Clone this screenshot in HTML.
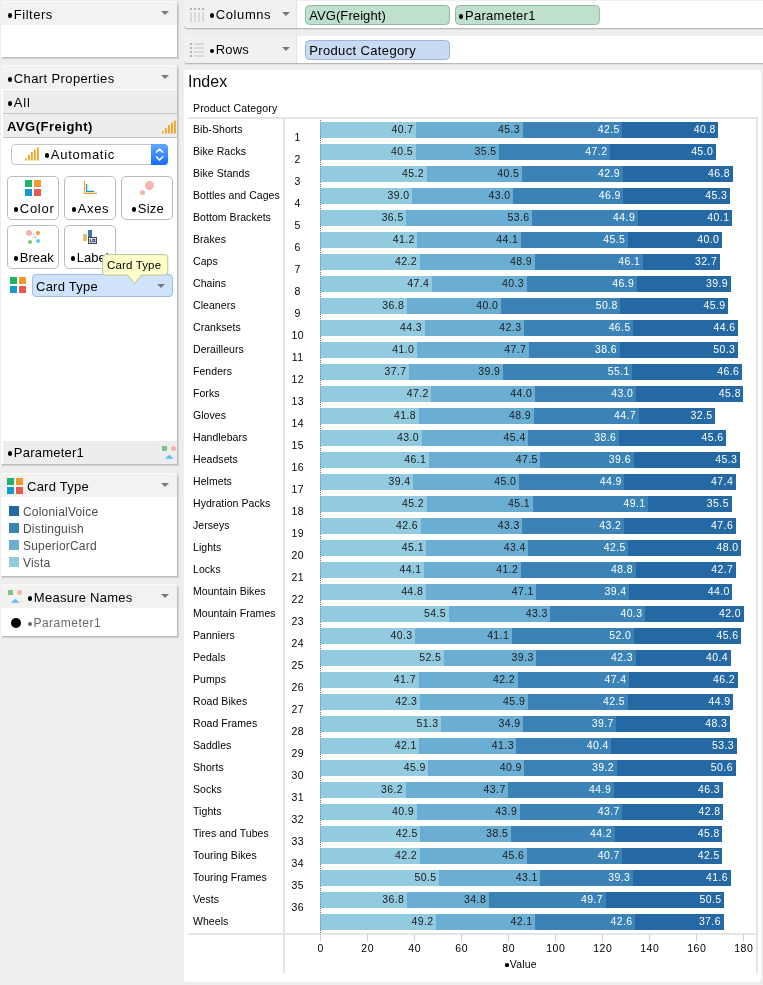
<!DOCTYPE html>
<html><head><meta charset="utf-8"><title>Index</title>
<style>
*{box-sizing:border-box;margin:0;padding:0}
html,body{width:763px;height:985px;overflow:hidden;background:#eeeeee}
body{font-family:"Liberation Sans",sans-serif;color:#000}
#page{will-change:transform;position:relative;width:763px;height:985px;background:#eeeeee;overflow:hidden}
#leftbg{display:none}
#gutter{display:none}
.card{position:absolute;left:1px;width:176px;background:#fff;border-radius:4px 4px 0 0;box-shadow:1px 1px 0 #bdbdbd, 1.5px 1.5px 1px #d0d0d0}
.card .hd{position:absolute;left:0;top:0;right:0;height:24px;background:#f2f2f1;border-radius:4px 4px 0 0;box-shadow:inset 0 1px 0 #fafafa}
.t{position:absolute;font-size:13px;line-height:16px;white-space:nowrap}
.tri{position:absolute;width:0;height:0;border-left:4px solid transparent;border-right:4px solid transparent;border-top:4.7px solid #787878;margin-left:-.3px}
.row{position:absolute;left:3px;width:174px;background:#ededf0}
.btn{position:absolute;width:52px;height:44px;border:1px solid #bcbcbc;border-radius:5px;background:#fff}
.sq{position:absolute;width:7px;height:7px}
.ci{position:absolute;border-radius:50%}
/* shelves */
.shelf{position:absolute;left:184px;width:579px;height:27.3px;background:#fff;border-radius:4px 0 0 4px;box-shadow:0 1px 0 #b9b9b9, 0 2px 1px #dcdcdc}
.shelf .lb{position:absolute;left:0;top:0;width:113px;height:27.3px;background:#f1f1ef;border-radius:4px 0 0 4px;border-right:1px solid #e6e6d8}
.pill{position:absolute;height:19.8px;width:145px;border-radius:4.5px;font-size:13px;line-height:19.5px;padding-left:3.2px;white-space:nowrap}
.pg{background:#bfe0cd;border:1px solid #93b9a4}
.pb{background:#c9daf3;border:1px solid #9db4d8}
/* chart */
#panel{position:absolute;left:184px;top:70px;width:577px;height:911.5px;background:#fff;border-radius:0 0 3px 3px}
#title{position:absolute;left:188px;top:73px;font-size:16px;line-height:18px;color:#0a0a0a}
#hdr{position:absolute;left:193px;top:101px;font-size:10.5px;line-height:14px;letter-spacing:0.17px;white-space:nowrap}
#hline1{position:absolute;left:188px;top:117px;width:570px;height:2px;background:#e6e6e6}
#vline1{position:absolute;left:283.3px;top:118px;width:1.5px;height:855px;background:#e4e4e4}
#vline2{position:absolute;left:756.3px;top:118px;width:1.5px;height:855px;background:#e4e4e4}
#axis{position:absolute;left:188px;top:933px;width:569px;height:2px;background:#e6e6e6}
#zero,#zero2{position:absolute;left:320px;top:120px;width:1px;height:814px}
#zero{background:repeating-linear-gradient(to bottom,rgba(20,20,20,.45) 0,rgba(20,20,20,.45) 1px,transparent 1px,transparent 2px)}
#zero2{background:repeating-linear-gradient(to bottom,rgba(20,20,20,.3) 0,rgba(20,20,20,.3) 1px,transparent 1px,transparent 2px)}
.rl{position:absolute;left:193px;font-size:10.5px;line-height:14px;height:14px;white-space:nowrap;letter-spacing:0.06px}
.ix{position:absolute;left:285.5px;width:24px;text-align:center;font-size:10.5px;line-height:14px;height:14px;letter-spacing:.5px;text-indent:.5px}
.sg{position:absolute;height:16px;font-size:10.5px;line-height:14px;text-align:right;padding-right:2.6px;letter-spacing:.4px;white-space:nowrap;overflow:visible}
.tk{position:absolute;top:934px;width:1px;height:7px;background:#cfcfcf}
.tl{position:absolute;top:941px;width:40px;text-align:center;font-size:10.5px;line-height:14px;letter-spacing:0.6px;text-indent:.6px}
#axt{position:absolute;left:481px;top:957px;width:80px;text-align:center;font-size:10.5px;line-height:14px;letter-spacing:0.2px}
.b{display:inline-block;width:.35em;height:.36em;position:relative;vertical-align:baseline;letter-spacing:0;margin-right:.1em}
.b:after{content:'';position:absolute;left:.01em;top:-.065em;width:.315em;height:.315em;border-radius:50%;background:currentColor}
#axt .b:after{top:-.13em;width:.35em;height:.35em}

</style></head>
<body>
<div id="page">
<div id="leftbg"></div><div id="gutter"></div>
<!-- Filters -->
<div class="card" style="top:1px;height:56px"><div class="hd"></div>
<div class="t" style="left:7px;top:6px;letter-spacing:.5px"><span class="b"></span>Filters</div><div class="tri" style="left:160px;top:10px"></div></div>
<!-- Chart properties -->
<div class="card" style="top:65px;height:399px"><div class="hd"></div>
<div class="t" style="left:7px;top:6px;letter-spacing:.38px"><span class="b"></span>Chart Properties</div><div class="tri" style="left:160px;top:10px"></div>
<div class="row" style="left:2px;top:25px;height:24px;border-bottom:1px solid #c6c6c6"></div>
<div class="t" style="left:7px;top:30px;letter-spacing:.8px"><span class="b"></span>All</div>
<div class="row" style="left:2px;top:49px;height:24px;border-bottom:1px solid #c6c6c6"></div>
<div class="t" style="left:6px;top:54px;font-weight:bold;letter-spacing:.5px">AVG(Freight)</div>
<svg style="position:absolute;left:160px;top:54.5px" width="16" height="14" viewBox="0 0 16 14"><g fill="#f5a31f"><rect x="1" y="11" width="1.6" height="2.5"/><rect x="4" y="8" width="1.8" height="5.5"/><rect x="7" y="5" width="1.8" height="8.5"/><rect x="10" y="2.5" width="1.8" height="11"/><rect x="13" y="0.5" width="1.8" height="13"/></g></svg>
<!-- dropdown -->
<div style="position:absolute;left:10px;top:79px;width:157px;height:21px;border:1px solid #c6c6c6;border-radius:4px;background:#fff"></div>
<div style="position:absolute;left:150px;top:79px;width:17px;height:21px;border-radius:0 4px 4px 0;background:linear-gradient(#5fa8ff,#1a6bff)"></div>
<svg style="position:absolute;left:150px;top:79px" width="17" height="21" viewBox="0 0 17 21"><path d="M5.3 8.3 L8.5 5 L11.7 8.3 M5.3 12.7 L8.5 16 L11.7 12.7" fill="none" stroke="#fff" stroke-width="1.5" stroke-linecap="round" stroke-linejoin="round"/></svg>
<svg style="position:absolute;left:23px;top:82px" width="16" height="14" viewBox="0 0 16 14"><g fill="#f5a31f"><rect x="1" y="11" width="1.6" height="2.5"/><rect x="4" y="8" width="1.8" height="5.5"/><rect x="7" y="5" width="1.8" height="8.5"/><rect x="10" y="2.5" width="1.8" height="11"/><rect x="13" y="0.5" width="1.8" height="13"/></g></svg>
<div class="t" style="left:44px;top:82px;letter-spacing:.7px"><span class="b"></span>Automatic</div>
<!-- buttons row1 -->
<div class="btn" style="left:6px;top:111px"></div>
<div class="btn" style="left:63px;top:111px"></div>
<div class="btn" style="left:120px;top:111px"></div>
<div class="btn" style="left:6px;top:160px"></div>
<div class="btn" style="left:63px;top:160px"></div>
<!-- color icon -->
<div class="sq" style="left:24px;top:115px;background:#1fb26b"></div><div class="sq" style="left:33px;top:115px;background:#f59b2e"></div>
<div class="sq" style="left:24px;top:124px;background:#0d9ccd"></div><div class="sq" style="left:33px;top:124px;background:#e9594f"></div>
<div class="t" style="left:13px;top:136px;letter-spacing:.7px"><span class="b"></span>Color</div>
<!-- axes icon -->
<svg style="position:absolute;left:82px;top:115px" width="16" height="15" viewBox="0 0 16 15"><path d="M1.5 1 V13.4 H14" fill="none" stroke="#f59b2e" stroke-width="1.2"/><path d="M3.6 4 V11.3 H11" fill="none" stroke="#0d9ccd" stroke-width="1.2"/></svg>
<div class="t" style="left:71px;top:136px;letter-spacing:.6px"><span class="b"></span>Axes</div>
<!-- size icon -->
<div class="ci" style="left:144px;top:115.5px;width:9.4px;height:9.4px;background:#f5b5ae"></div>
<div class="ci" style="left:139px;top:124.5px;width:5px;height:5px;background:#f5b5ae"></div>
<div class="t" style="left:131px;top:136px;letter-spacing:.2px"><span class="b"></span>Size</div>
<!-- break icon -->
<div class="ci" style="left:24.5px;top:164.5px;width:6.5px;height:6.5px;background:#f5b5ae"></div>
<div class="ci" style="left:34.5px;top:165.5px;width:4.4px;height:4.4px;background:#f59b2e"></div>
<div class="ci" style="left:26.5px;top:174.5px;width:4.4px;height:4.4px;background:#7cc57c"></div>
<div class="ci" style="left:34.8px;top:173.5px;width:4.4px;height:4.4px;background:#6ec3f4"></div>
<div class="ci" style="left:31.5px;top:168px;width:1.5px;height:1.5px;background:#bbb"></div>
<div class="ci" style="left:30.5px;top:171.5px;width:1.5px;height:1.5px;background:#bbb"></div>
<div class="ci" style="left:33px;top:171px;width:1.5px;height:1.5px;background:#bbb"></div>
<div class="t" style="left:13px;top:185px"><span class="b"></span>Break</div>
<!-- label icon -->
<div style="position:absolute;left:82px;top:169px;width:4px;height:7px;background:#e8bb72"></div>
<div style="position:absolute;left:87.3px;top:165px;width:3.8px;height:8px;background:#3c74b2"></div>
<div style="position:absolute;left:87.3px;top:172px;width:8.8px;height:7px;background:#e6e8f2;border:1px solid #4a4a4a"></div>
<svg style="position:absolute;left:87.3px;top:172px" width="9" height="7" viewBox="0 0 9 7"><path d="M2.4 2.1 V4.9 H3.9" fill="none" stroke="#2c3a6e" stroke-width="1"/><rect x="4.9" y="2.4" width="1.9" height="2.3" fill="none" stroke="#2c3a6e" stroke-width="1"/></svg>
<div class="t" style="left:70px;top:185px"><span class="b"></span>Label</div>
<!-- card type pill -->
<div class="sq" style="left:9px;top:212px;background:#1fb26b"></div><div class="sq" style="left:18px;top:212px;background:#f59b2e"></div>
<div class="sq" style="left:9px;top:221px;background:#0d9ccd"></div><div class="sq" style="left:18px;top:221px;background:#e9594f"></div>
<div style="position:absolute;left:31px;top:209.3px;width:141px;height:23.2px;border-radius:4px;background:#cfe4fb;border:1px solid #9ebde2"></div>
<div class="t" style="left:35px;top:214px;letter-spacing:.25px">Card Type</div>
<div class="tri" style="left:156px;top:219px"></div>
<!-- tooltip -->
<svg style="position:absolute;left:99.6px;top:188px" width="70" height="32" viewBox="0 0 70 32"><path d="M4.7 1.6 H63.8 a3 3 0 0 1 3 3 V19.1 a3 3 0 0 1 -3 3 H40.3 L33.4 30.6 L26.7 22.1 H4.7 a3 3 0 0 1 -3 -3 V4.6 a3 3 0 0 1 3 -3 Z" fill="#ffffcc" stroke="#bdbd9e" stroke-width="1"/></svg>
<div class="t" style="left:106px;top:191.7px;font-size:11.5px;letter-spacing:.15px">Card Type</div>
<!-- parameter1 row -->
<div class="row" style="left:2px;top:376px;height:23px"></div>
<div class="t" style="left:7px;top:380px;letter-spacing:.23px"><span class="b"></span>Parameter1</div>
<div style="position:absolute;left:161.4px;top:381.2px;width:4.6px;height:4.6px;background:#7cc57c"></div>
<div class="ci" style="left:169.5px;top:380.8px;width:5px;height:5px;background:#f5b5ae"></div>
<svg style="position:absolute;left:164px;top:389px" width="9" height="5" viewBox="0 0 9 5"><path d="M0 4.7 L4.3 0.7 L8.6 4.7 Z" fill="#55c0f0"/></svg>
</div>
<!-- Card Type legend -->
<div class="card" style="top:472.5px;height:103.5px"><div class="hd"></div>
<div class="sq" style="left:6px;top:5.5px;background:#1fb26b"></div><div class="sq" style="left:15px;top:5.5px;background:#f59b2e"></div>
<div class="sq" style="left:6px;top:14.5px;background:#0d9ccd"></div><div class="sq" style="left:15px;top:14.5px;background:#e9594f"></div>
<div class="t" style="left:26px;top:6.5px;letter-spacing:.25px">Card Type</div><div class="tri" style="left:160px;top:10.5px"></div>
<div style="position:absolute;left:8px;top:33.2px;width:10px;height:10px;background:#2468a4"></div>
<div style="position:absolute;left:8px;top:50.2px;width:10px;height:10px;background:#3b83b7"></div>
<div style="position:absolute;left:8px;top:67.2px;width:10px;height:10px;background:#6baed4"></div>
<div style="position:absolute;left:8px;top:84.2px;width:10px;height:10px;background:#92cadf"></div>
<div class="t" style="left:22px;top:31.5px;font-size:12px;color:#4d4d4d;letter-spacing:.2px">ColonialVoice</div>
<div class="t" style="left:22px;top:48.5px;font-size:12px;color:#4d4d4d;letter-spacing:.2px">Distinguish</div>
<div class="t" style="left:22px;top:65.5px;font-size:12px;color:#4d4d4d;letter-spacing:.2px">SuperiorCard</div>
<div class="t" style="left:22px;top:82.5px;font-size:12px;color:#4d4d4d;letter-spacing:.2px">Vista</div>
</div>
<!-- Measure Names -->
<div class="card" style="top:584px;height:52px"><div class="hd"></div>
<div style="position:absolute;left:7px;top:6.4px;width:4.6px;height:4.6px;background:#7cc57c"></div>
<div class="ci" style="left:15.7px;top:6px;width:5px;height:5px;background:#f5b5ae"></div>
<svg style="position:absolute;left:10px;top:14px" width="9" height="5" viewBox="0 0 9 5"><path d="M0 4.7 L4.3 0.7 L8.6 4.7 Z" fill="#55c0f0"/></svg>
<div class="t" style="left:27px;top:6px;letter-spacing:.26px"><span class="b"></span>Measure Names</div><div class="tri" style="left:160px;top:10px"></div>
<div class="ci" style="left:10px;top:33.5px;width:10px;height:10px;background:#000"></div>
<div class="t" style="left:27px;top:31px;font-size:12px;color:#6a6a6a;letter-spacing:.5px"><span class="b"></span>Parameter1</div>
</div>

<div class="shelf" style="top:.5px"><div class="lb"></div>
<svg style="position:absolute;left:6px;top:7.5px" width="16" height="15" viewBox="0 0 16 15"><g fill="#dadada"><rect x="0" y="4" width="2" height="10"/><rect x="4" y="4" width="2" height="10"/><rect x="8" y="4" width="2" height="10"/><rect x="12" y="4" width="2" height="10"/></g><g fill="#b2b2b2"><rect x="0" y="0" width="2" height="2"/><rect x="4" y="0" width="2" height="2"/><rect x="8" y="0" width="2" height="2"/><rect x="12" y="0" width="2" height="2"/></g></svg>
<div class="t" style="left:26px;top:6.5px;letter-spacing:.58px"><span class="b"></span>Columns</div><div class="tri" style="left:98px;top:11.2px"></div>
<div class="pill pg" style="left:121px;top:4.5px;letter-spacing:.09px">AVG(Freight)</div>
<div class="pill pg" style="left:271px;top:4.5px;letter-spacing:.27px"><span class="b"></span>Parameter1</div>
</div>
<div class="shelf" style="top:35.7px"><div class="lb"></div>
<svg style="position:absolute;left:6px;top:7.3px" width="16" height="16" viewBox="0 0 16 16"><g fill="#dadada"><rect x="4" y="0" width="10" height="2"/><rect x="4" y="4" width="10" height="2"/><rect x="4" y="8" width="10" height="2"/><rect x="4" y="12" width="10" height="2"/></g><g fill="#b2b2b2"><rect x="0" y="0" width="2" height="2"/><rect x="0" y="4" width="2" height="2"/><rect x="0" y="8" width="2" height="2"/><rect x="0" y="12" width="2" height="2"/></g></svg>
<div class="t" style="left:26px;top:6.5px;letter-spacing:.1px"><span class="b"></span>Rows</div><div class="tri" style="left:98px;top:11.2px"></div>
<div class="pill pb" style="left:121px;top:4.5px;letter-spacing:.36px">Product Category</div>
</div>
<div id="panel"></div>

<div id="chart">
<div id="title">Index</div>
<div id="hdr">Product Category</div>
<div id="hline1"></div>
<div id="vline1"></div>
<div id="vline2"></div>
<div id="axis"></div>
<div id="zero"></div>
<div class="rl" style="top:122px">Bib-Shorts</div><div class="ix" style="top:130px">1</div><div class="sg" style="left:320.00px;top:122px;width:96.14px;background:#92cadf;color:#1a1a1a">40.7</div><div class="sg" style="left:416.14px;top:122px;width:106.46px;background:#6baed4;color:#1a1a1a">45.3</div><div class="sg" style="left:522.60px;top:122px;width:99.88px;background:#3b83b7;color:#ffffff">42.5</div><div class="sg" style="left:622.48px;top:122px;width:95.88px;background:#2468a4;color:#ffffff">40.8</div><div class="rl" style="top:144px">Bike Racks</div><div class="ix" style="top:152px">2</div><div class="sg" style="left:320.00px;top:144px;width:95.68px;background:#92cadf;color:#1a1a1a">40.5</div><div class="sg" style="left:415.68px;top:144px;width:83.43px;background:#6baed4;color:#1a1a1a">35.5</div><div class="sg" style="left:499.10px;top:144px;width:110.92px;background:#3b83b7;color:#ffffff">47.2</div><div class="sg" style="left:610.02px;top:144px;width:105.75px;background:#2468a4;color:#ffffff">45.0</div><div class="rl" style="top:166px">Bike Stands</div><div class="ix" style="top:174px">3</div><div class="sg" style="left:320.00px;top:166px;width:106.72px;background:#92cadf;color:#1a1a1a">45.2</div><div class="sg" style="left:426.72px;top:166px;width:95.17px;background:#6baed4;color:#1a1a1a">40.5</div><div class="sg" style="left:521.89px;top:166px;width:100.82px;background:#3b83b7;color:#ffffff">42.9</div><div class="sg" style="left:622.71px;top:166px;width:109.98px;background:#2468a4;color:#ffffff">46.8</div><div class="rl" style="top:188px">Bottles and Cages</div><div class="ix" style="top:196px">4</div><div class="sg" style="left:320.00px;top:188px;width:92.15px;background:#92cadf;color:#1a1a1a">39.0</div><div class="sg" style="left:412.15px;top:188px;width:101.05px;background:#6baed4;color:#1a1a1a">43.0</div><div class="sg" style="left:513.20px;top:188px;width:110.21px;background:#3b83b7;color:#ffffff">46.9</div><div class="sg" style="left:623.41px;top:188px;width:106.46px;background:#2468a4;color:#ffffff">45.3</div><div class="rl" style="top:210px">Bottom Brackets</div><div class="ix" style="top:218px">5</div><div class="sg" style="left:320.00px;top:210px;width:86.27px;background:#92cadf;color:#1a1a1a">36.5</div><div class="sg" style="left:406.27px;top:210px;width:125.96px;background:#6baed4;color:#1a1a1a">53.6</div><div class="sg" style="left:532.24px;top:210px;width:105.51px;background:#3b83b7;color:#ffffff">44.9</div><div class="sg" style="left:637.75px;top:210px;width:94.24px;background:#2468a4;color:#ffffff">40.1</div><div class="rl" style="top:232px">Brakes</div><div class="ix" style="top:240px">6</div><div class="sg" style="left:320.00px;top:232px;width:97.32px;background:#92cadf;color:#1a1a1a">41.2</div><div class="sg" style="left:417.32px;top:232px;width:103.64px;background:#6baed4;color:#1a1a1a">44.1</div><div class="sg" style="left:520.96px;top:232px;width:106.93px;background:#3b83b7;color:#ffffff">45.5</div><div class="sg" style="left:627.88px;top:232px;width:94.00px;background:#2468a4;color:#ffffff">40.0</div><div class="rl" style="top:254px">Caps</div><div class="ix" style="top:262px">7</div><div class="sg" style="left:320.00px;top:254px;width:99.67px;background:#92cadf;color:#1a1a1a">42.2</div><div class="sg" style="left:419.67px;top:254px;width:114.92px;background:#6baed4;color:#1a1a1a">48.9</div><div class="sg" style="left:534.59px;top:254px;width:108.33px;background:#3b83b7;color:#ffffff">46.1</div><div class="sg" style="left:642.92px;top:254px;width:76.85px;background:#2468a4;color:#ffffff">32.7</div><div class="rl" style="top:276px">Chains</div><div class="ix" style="top:284px">8</div><div class="sg" style="left:320.00px;top:276px;width:111.89px;background:#92cadf;color:#1a1a1a">47.4</div><div class="sg" style="left:431.89px;top:276px;width:94.71px;background:#6baed4;color:#1a1a1a">40.3</div><div class="sg" style="left:526.60px;top:276px;width:110.21px;background:#3b83b7;color:#ffffff">46.9</div><div class="sg" style="left:636.81px;top:276px;width:93.77px;background:#2468a4;color:#ffffff">39.9</div><div class="rl" style="top:298px">Cleaners</div><div class="ix" style="top:306px">9</div><div class="sg" style="left:320.00px;top:298px;width:86.98px;background:#92cadf;color:#1a1a1a">36.8</div><div class="sg" style="left:406.98px;top:298px;width:94.00px;background:#6baed4;color:#1a1a1a">40.0</div><div class="sg" style="left:500.98px;top:298px;width:119.38px;background:#3b83b7;color:#ffffff">50.8</div><div class="sg" style="left:620.36px;top:298px;width:107.87px;background:#2468a4;color:#ffffff">45.9</div><div class="rl" style="top:320px">Cranksets</div><div class="ix" style="top:328px">10</div><div class="sg" style="left:320.00px;top:320px;width:104.61px;background:#92cadf;color:#1a1a1a">44.3</div><div class="sg" style="left:424.61px;top:320px;width:99.40px;background:#6baed4;color:#1a1a1a">42.3</div><div class="sg" style="left:524.01px;top:320px;width:109.28px;background:#3b83b7;color:#ffffff">46.5</div><div class="sg" style="left:633.29px;top:320px;width:104.81px;background:#2468a4;color:#ffffff">44.6</div><div class="rl" style="top:342px">Derailleurs</div><div class="ix" style="top:350px">11</div><div class="sg" style="left:320.00px;top:342px;width:96.85px;background:#92cadf;color:#1a1a1a">41.0</div><div class="sg" style="left:416.85px;top:342px;width:112.10px;background:#6baed4;color:#1a1a1a">47.7</div><div class="sg" style="left:528.95px;top:342px;width:90.71px;background:#3b83b7;color:#ffffff">38.6</div><div class="sg" style="left:619.65px;top:342px;width:118.21px;background:#2468a4;color:#ffffff">50.3</div><div class="rl" style="top:364px">Fenders</div><div class="ix" style="top:372px">12</div><div class="sg" style="left:320.00px;top:364px;width:89.10px;background:#92cadf;color:#1a1a1a">37.7</div><div class="sg" style="left:409.10px;top:364px;width:93.76px;background:#6baed4;color:#1a1a1a">39.9</div><div class="sg" style="left:502.86px;top:364px;width:129.49px;background:#3b83b7;color:#ffffff">55.1</div><div class="sg" style="left:632.35px;top:364px;width:109.51px;background:#2468a4;color:#ffffff">46.6</div><div class="rl" style="top:386px">Forks</div><div class="ix" style="top:394px">13</div><div class="sg" style="left:320.00px;top:386px;width:111.42px;background:#92cadf;color:#1a1a1a">47.2</div><div class="sg" style="left:431.42px;top:386px;width:103.40px;background:#6baed4;color:#1a1a1a">44.0</div><div class="sg" style="left:534.82px;top:386px;width:101.05px;background:#3b83b7;color:#ffffff">43.0</div><div class="sg" style="left:635.87px;top:386px;width:107.63px;background:#2468a4;color:#ffffff">45.8</div><div class="rl" style="top:408px">Gloves</div><div class="ix" style="top:416px">14</div><div class="sg" style="left:320.00px;top:408px;width:98.73px;background:#92cadf;color:#1a1a1a">41.8</div><div class="sg" style="left:418.73px;top:408px;width:114.91px;background:#6baed4;color:#1a1a1a">48.9</div><div class="sg" style="left:533.64px;top:408px;width:105.04px;background:#3b83b7;color:#ffffff">44.7</div><div class="sg" style="left:638.69px;top:408px;width:76.38px;background:#2468a4;color:#ffffff">32.5</div><div class="rl" style="top:430px">Handlebars</div><div class="ix" style="top:438px">15</div><div class="sg" style="left:320.00px;top:430px;width:101.55px;background:#92cadf;color:#1a1a1a">43.0</div><div class="sg" style="left:421.55px;top:430px;width:106.69px;background:#6baed4;color:#1a1a1a">45.4</div><div class="sg" style="left:528.24px;top:430px;width:90.71px;background:#3b83b7;color:#ffffff">38.6</div><div class="sg" style="left:618.95px;top:430px;width:107.16px;background:#2468a4;color:#ffffff">45.6</div><div class="rl" style="top:452px">Headsets</div><div class="ix" style="top:460px">16</div><div class="sg" style="left:320.00px;top:452px;width:108.84px;background:#92cadf;color:#1a1a1a">46.1</div><div class="sg" style="left:428.84px;top:452px;width:111.62px;background:#6baed4;color:#1a1a1a">47.5</div><div class="sg" style="left:540.46px;top:452px;width:93.06px;background:#3b83b7;color:#ffffff">39.6</div><div class="sg" style="left:633.52px;top:452px;width:106.46px;background:#2468a4;color:#ffffff">45.3</div><div class="rl" style="top:474px">Helmets</div><div class="ix" style="top:482px">17</div><div class="sg" style="left:320.00px;top:474px;width:93.09px;background:#92cadf;color:#1a1a1a">39.4</div><div class="sg" style="left:413.09px;top:474px;width:105.75px;background:#6baed4;color:#1a1a1a">45.0</div><div class="sg" style="left:518.84px;top:474px;width:105.51px;background:#3b83b7;color:#ffffff">44.9</div><div class="sg" style="left:624.36px;top:474px;width:111.39px;background:#2468a4;color:#ffffff">47.4</div><div class="rl" style="top:496px">Hydration Packs</div><div class="ix" style="top:504px">18</div><div class="sg" style="left:320.00px;top:496px;width:106.72px;background:#92cadf;color:#1a1a1a">45.2</div><div class="sg" style="left:426.72px;top:496px;width:105.99px;background:#6baed4;color:#1a1a1a">45.1</div><div class="sg" style="left:532.71px;top:496px;width:115.38px;background:#3b83b7;color:#ffffff">49.1</div><div class="sg" style="left:648.09px;top:496px;width:83.43px;background:#2468a4;color:#ffffff">35.5</div><div class="rl" style="top:518px">Jerseys</div><div class="ix" style="top:526px">19</div><div class="sg" style="left:320.00px;top:518px;width:100.61px;background:#92cadf;color:#1a1a1a">42.6</div><div class="sg" style="left:420.61px;top:518px;width:101.75px;background:#6baed4;color:#1a1a1a">43.3</div><div class="sg" style="left:522.37px;top:518px;width:101.52px;background:#3b83b7;color:#ffffff">43.2</div><div class="sg" style="left:623.88px;top:518px;width:111.86px;background:#2468a4;color:#ffffff">47.6</div><div class="rl" style="top:540px">Lights</div><div class="ix" style="top:548px">20</div><div class="sg" style="left:320.00px;top:540px;width:106.49px;background:#92cadf;color:#1a1a1a">45.1</div><div class="sg" style="left:426.49px;top:540px;width:101.99px;background:#6baed4;color:#1a1a1a">43.4</div><div class="sg" style="left:528.48px;top:540px;width:99.88px;background:#3b83b7;color:#ffffff">42.5</div><div class="sg" style="left:628.35px;top:540px;width:112.80px;background:#2468a4;color:#ffffff">48.0</div><div class="rl" style="top:562px">Locks</div><div class="ix" style="top:570px">21</div><div class="sg" style="left:320.00px;top:562px;width:104.13px;background:#92cadf;color:#1a1a1a">44.1</div><div class="sg" style="left:424.13px;top:562px;width:96.82px;background:#6baed4;color:#1a1a1a">41.2</div><div class="sg" style="left:520.96px;top:562px;width:114.68px;background:#3b83b7;color:#ffffff">48.8</div><div class="sg" style="left:635.63px;top:562px;width:100.35px;background:#2468a4;color:#ffffff">42.7</div><div class="rl" style="top:584px">Mountain Bikes</div><div class="ix" style="top:592px">22</div><div class="sg" style="left:320.00px;top:584px;width:105.78px;background:#92cadf;color:#1a1a1a">44.8</div><div class="sg" style="left:425.78px;top:584px;width:110.69px;background:#6baed4;color:#1a1a1a">47.1</div><div class="sg" style="left:536.47px;top:584px;width:92.59px;background:#3b83b7;color:#ffffff">39.4</div><div class="sg" style="left:629.06px;top:584px;width:103.40px;background:#2468a4;color:#ffffff">44.0</div><div class="rl" style="top:606px">Mountain Frames</div><div class="ix" style="top:614px">23</div><div class="sg" style="left:320.00px;top:606px;width:128.58px;background:#92cadf;color:#1a1a1a">54.5</div><div class="sg" style="left:448.58px;top:606px;width:101.75px;background:#6baed4;color:#1a1a1a">43.3</div><div class="sg" style="left:550.33px;top:606px;width:94.71px;background:#3b83b7;color:#ffffff">40.3</div><div class="sg" style="left:645.04px;top:606px;width:98.70px;background:#2468a4;color:#ffffff">42.0</div><div class="rl" style="top:628px">Panniers</div><div class="ix" style="top:636px">24</div><div class="sg" style="left:320.00px;top:628px;width:95.20px;background:#92cadf;color:#1a1a1a">40.3</div><div class="sg" style="left:415.20px;top:628px;width:96.59px;background:#6baed4;color:#1a1a1a">41.1</div><div class="sg" style="left:511.79px;top:628px;width:122.20px;background:#3b83b7;color:#ffffff">52.0</div><div class="sg" style="left:633.99px;top:628px;width:107.16px;background:#2468a4;color:#ffffff">45.6</div><div class="rl" style="top:650px">Pedals</div><div class="ix" style="top:658px">25</div><div class="sg" style="left:320.00px;top:650px;width:123.88px;background:#92cadf;color:#1a1a1a">52.5</div><div class="sg" style="left:443.88px;top:650px;width:92.36px;background:#6baed4;color:#1a1a1a">39.3</div><div class="sg" style="left:536.23px;top:650px;width:99.40px;background:#3b83b7;color:#ffffff">42.3</div><div class="sg" style="left:635.63px;top:650px;width:94.94px;background:#2468a4;color:#ffffff">40.4</div><div class="rl" style="top:672px">Pumps</div><div class="ix" style="top:680px">26</div><div class="sg" style="left:320.00px;top:672px;width:98.50px;background:#92cadf;color:#1a1a1a">41.7</div><div class="sg" style="left:418.50px;top:672px;width:99.17px;background:#6baed4;color:#1a1a1a">42.2</div><div class="sg" style="left:517.66px;top:672px;width:111.39px;background:#3b83b7;color:#ffffff">47.4</div><div class="sg" style="left:629.06px;top:672px;width:108.57px;background:#2468a4;color:#ffffff">46.2</div><div class="rl" style="top:694px">Road Bikes</div><div class="ix" style="top:702px">27</div><div class="sg" style="left:320.00px;top:694px;width:99.90px;background:#92cadf;color:#1a1a1a">42.3</div><div class="sg" style="left:419.90px;top:694px;width:107.87px;background:#6baed4;color:#1a1a1a">45.9</div><div class="sg" style="left:527.77px;top:694px;width:99.88px;background:#3b83b7;color:#ffffff">42.5</div><div class="sg" style="left:627.64px;top:694px;width:105.52px;background:#2468a4;color:#ffffff">44.9</div><div class="rl" style="top:716px">Road Frames</div><div class="ix" style="top:724px">28</div><div class="sg" style="left:320.00px;top:716px;width:121.06px;background:#92cadf;color:#1a1a1a">51.3</div><div class="sg" style="left:441.06px;top:716px;width:82.01px;background:#6baed4;color:#1a1a1a">34.9</div><div class="sg" style="left:523.07px;top:716px;width:93.30px;background:#3b83b7;color:#ffffff">39.7</div><div class="sg" style="left:616.37px;top:716px;width:113.50px;background:#2468a4;color:#ffffff">48.3</div><div class="rl" style="top:738px">Saddles</div><div class="ix" style="top:746px">29</div><div class="sg" style="left:320.00px;top:738px;width:99.44px;background:#92cadf;color:#1a1a1a">42.1</div><div class="sg" style="left:419.44px;top:738px;width:97.06px;background:#6baed4;color:#1a1a1a">41.3</div><div class="sg" style="left:516.49px;top:738px;width:94.94px;background:#3b83b7;color:#ffffff">40.4</div><div class="sg" style="left:611.43px;top:738px;width:125.25px;background:#2468a4;color:#ffffff">53.3</div><div class="rl" style="top:760px">Shorts</div><div class="ix" style="top:768px">30</div><div class="sg" style="left:320.00px;top:760px;width:108.37px;background:#92cadf;color:#1a1a1a">45.9</div><div class="sg" style="left:428.37px;top:760px;width:96.12px;background:#6baed4;color:#1a1a1a">40.9</div><div class="sg" style="left:524.48px;top:760px;width:92.12px;background:#3b83b7;color:#ffffff">39.2</div><div class="sg" style="left:616.60px;top:760px;width:118.91px;background:#2468a4;color:#ffffff">50.6</div><div class="rl" style="top:782px">Socks</div><div class="ix" style="top:790px">31</div><div class="sg" style="left:320.00px;top:782px;width:85.57px;background:#92cadf;color:#1a1a1a">36.2</div><div class="sg" style="left:405.57px;top:782px;width:102.69px;background:#6baed4;color:#1a1a1a">43.7</div><div class="sg" style="left:508.26px;top:782px;width:105.51px;background:#3b83b7;color:#ffffff">44.9</div><div class="sg" style="left:613.78px;top:782px;width:108.81px;background:#2468a4;color:#ffffff">46.3</div><div class="rl" style="top:804px">Tights</div><div class="ix" style="top:812px">32</div><div class="sg" style="left:320.00px;top:804px;width:96.62px;background:#92cadf;color:#1a1a1a">40.9</div><div class="sg" style="left:416.62px;top:804px;width:103.16px;background:#6baed4;color:#1a1a1a">43.9</div><div class="sg" style="left:519.78px;top:804px;width:102.70px;background:#3b83b7;color:#ffffff">43.7</div><div class="sg" style="left:622.48px;top:804px;width:100.58px;background:#2468a4;color:#ffffff">42.8</div><div class="rl" style="top:826px">Tires and Tubes</div><div class="ix" style="top:834px">33</div><div class="sg" style="left:320.00px;top:826px;width:100.38px;background:#92cadf;color:#1a1a1a">42.5</div><div class="sg" style="left:420.38px;top:826px;width:90.48px;background:#6baed4;color:#1a1a1a">38.5</div><div class="sg" style="left:510.85px;top:826px;width:103.87px;background:#3b83b7;color:#ffffff">44.2</div><div class="sg" style="left:614.72px;top:826px;width:107.63px;background:#2468a4;color:#ffffff">45.8</div><div class="rl" style="top:848px">Touring Bikes</div><div class="ix" style="top:856px">34</div><div class="sg" style="left:320.00px;top:848px;width:99.67px;background:#92cadf;color:#1a1a1a">42.2</div><div class="sg" style="left:419.67px;top:848px;width:107.16px;background:#6baed4;color:#1a1a1a">45.6</div><div class="sg" style="left:526.83px;top:848px;width:95.64px;background:#3b83b7;color:#ffffff">40.7</div><div class="sg" style="left:622.48px;top:848px;width:99.88px;background:#2468a4;color:#ffffff">42.5</div><div class="rl" style="top:870px">Touring Frames</div><div class="ix" style="top:878px">35</div><div class="sg" style="left:320.00px;top:870px;width:119.18px;background:#92cadf;color:#1a1a1a">50.5</div><div class="sg" style="left:439.18px;top:870px;width:101.29px;background:#6baed4;color:#1a1a1a">43.1</div><div class="sg" style="left:540.46px;top:870px;width:92.35px;background:#3b83b7;color:#ffffff">39.3</div><div class="sg" style="left:632.81px;top:870px;width:97.76px;background:#2468a4;color:#ffffff">41.6</div><div class="rl" style="top:892px">Vests</div><div class="ix" style="top:900px">36</div><div class="sg" style="left:320.00px;top:892px;width:86.98px;background:#92cadf;color:#1a1a1a">36.8</div><div class="sg" style="left:406.98px;top:892px;width:81.78px;background:#6baed4;color:#1a1a1a">34.8</div><div class="sg" style="left:488.76px;top:892px;width:116.80px;background:#3b83b7;color:#ffffff">49.7</div><div class="sg" style="left:605.56px;top:892px;width:118.67px;background:#2468a4;color:#ffffff">50.5</div><div class="rl" style="top:914px">Wheels</div><div class="sg" style="left:320.00px;top:914px;width:116.12px;background:#92cadf;color:#1a1a1a">49.2</div><div class="sg" style="left:436.12px;top:914px;width:98.94px;background:#6baed4;color:#1a1a1a">42.1</div><div class="sg" style="left:535.06px;top:914px;width:100.11px;background:#3b83b7;color:#ffffff">42.6</div><div class="sg" style="left:635.16px;top:914px;width:88.36px;background:#2468a4;color:#ffffff">37.6</div>
<div id="zero2"></div>
<div class="tk" style="left:320.00px"></div><div class="tl" style="left:300.50px">0</div><div class="tk" style="left:367.00px"></div><div class="tl" style="left:347.50px">20</div><div class="tk" style="left:414.00px"></div><div class="tl" style="left:394.50px">40</div><div class="tk" style="left:461.00px"></div><div class="tl" style="left:441.50px">60</div><div class="tk" style="left:508.00px"></div><div class="tl" style="left:488.50px">80</div><div class="tk" style="left:555.00px"></div><div class="tl" style="left:535.50px">100</div><div class="tk" style="left:602.00px"></div><div class="tl" style="left:582.50px">120</div><div class="tk" style="left:649.00px"></div><div class="tl" style="left:629.50px">140</div><div class="tk" style="left:696.00px"></div><div class="tl" style="left:676.50px">160</div><div class="tk" style="left:743.00px"></div><div class="tl" style="left:723.50px">180</div>
<div id="axt"><span class="b"></span>Value</div>
</div>
</div>
</body></html>
